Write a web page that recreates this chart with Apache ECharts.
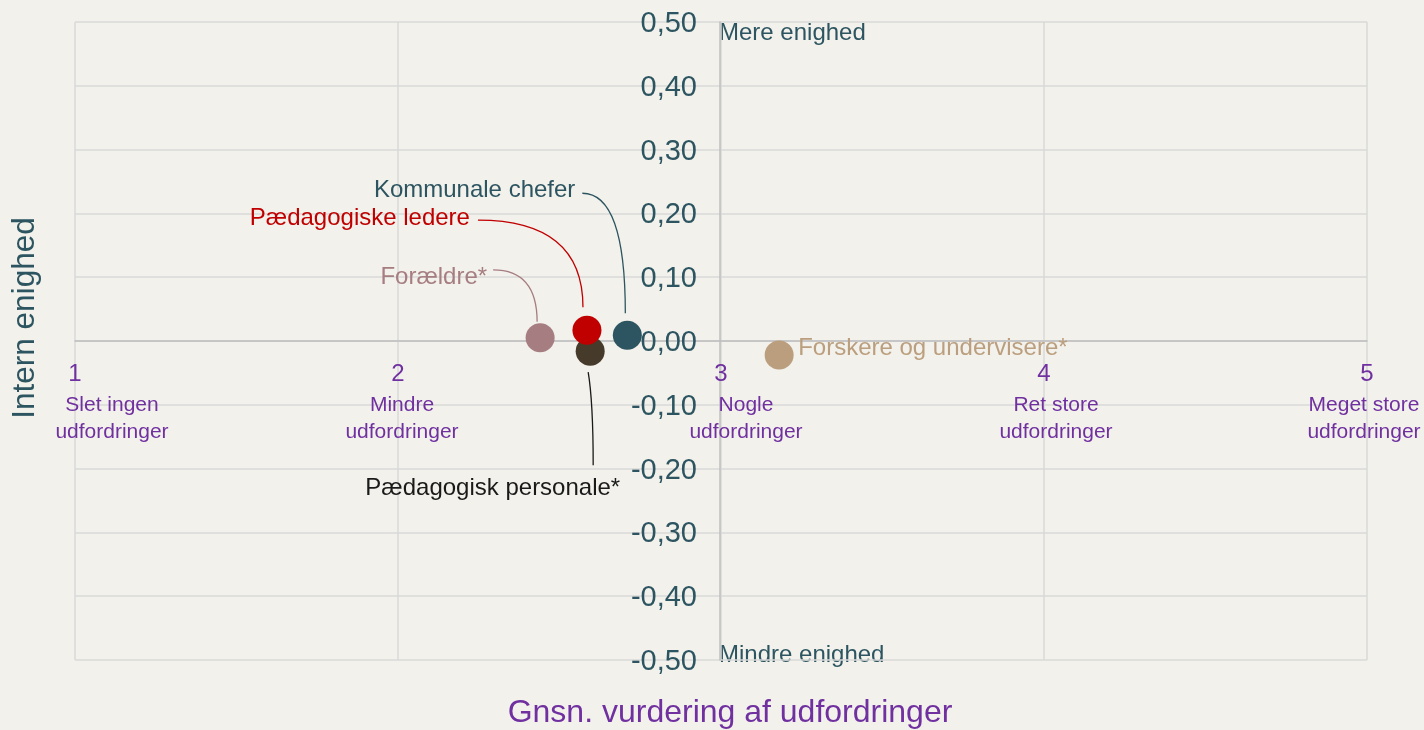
<!DOCTYPE html>
<html>
<head>
<meta charset="utf-8">
<script src="https://cdn.jsdelivr.net/npm/echarts@6/dist/echarts.min.js"></script>
<style>
  html, body { margin: 0; padding: 0; background: #f2f1eb; }
  #chart { width: 1424px; height: 730px; }
</style>
</head>
<body>
<div id="chart"></div>
<script>
// data
const groups = ['Forældre*', 'Pædagogisk personale*', 'Pædagogiske ledere', 'Kommunale chefer', 'Forskere og undervisere*'];
const xValues = [2.44, 2.595, 2.585, 2.71, 3.18];
const yValues = [0.005, -0.016, 0.017, 0.009, -0.022];
const dotColors = ['#a67d80', '#463a2a', '#c00000', '#2d5561', '#bb9e7d'];
const labelColors = ['#a67d80', '#1a1a1a', '#c00000', '#2d5561', '#bb9e7d'];

const xTickValues = [1, 2, 3, 4, 5];
const xTickTexts = ['Slet ingen\nudfordringer', 'Mindre\nudfordringer', 'Nogle\nudfordringer', 'Ret store\nudfordringer', 'Meget store\nudfordringer'];
const xTickShift = [37, 4, 25, 12, -3]; // sub-label horizontal nudge (px)

const FONT = '"Liberation Sans", Arial, sans-serif';
const TEAL = '#2d5561';
const PURPLE = '#7030a0';

// label placement and leader line, relative to the dot centre (px)
const labelCfg = [
  { dx: -53, dy: -60, align: 'right', line: { s: [-47, -68], e: [-3, -16], type: 'elbow' } },
  { dx: 30, dy: 137, align: 'right', line: { s: [-2, 21], e: [3, 114], type: 'down' } },
  { dx: -117, dy: -112, align: 'right', line: { s: [-109, -110], e: [-4, -23], type: 'elbow' } },
  { dx: -52, dy: -145, align: 'right', line: { s: [-45, -142], e: [-2, -22], type: 'elbow' } },
  { dx: 19, dy: -7, align: 'left', line: null }
];

const rich = { n: { fontSize: 24, lineHeight: 36, color: PURPLE, fontFamily: FONT } };
xTickShift.forEach((s, i) => {
  rich['s' + i] = {
    fontSize: 21, lineHeight: 27, color: PURPLE, fontFamily: FONT,
    padding: s >= 0 ? [0, 0, 0, 2 * s] : [0, -2 * s, 0, 0]
  };
});

const series = groups.map((g, i) => ({
  name: g,
  type: 'scatter',
  symbolSize: 29,
  itemStyle: { color: dotColors[i], opacity: 1 },
  data: [[xValues[i], yValues[i]]],
  z: 3 + i,
  label: {
    show: true,
    formatter: '{a}',
    color: labelColors[i],
    fontSize: 24,
    fontFamily: FONT
  },
  labelLayout: function (p) {
    const c = labelCfg[i];
    const cx = p.rect.x + p.rect.width / 2;
    const cy = p.rect.y + p.rect.height / 2;
    return { x: cx + c.dx, y: cy + c.dy, align: c.align, verticalAlign: 'middle' };
  },
  emphasis: { disabled: true }
}));

const baseGraphic = [
  { type: 'text', left: 719, top: 21, style: { text: 'Mere enighed', fill: TEAL, font: '24px ' + FONT } },
  { type: 'text', left: 719, top: 643, style: { text: 'Mindre enighed', fill: TEAL, font: '24px ' + FONT } },
  {
    type: 'text', x: 25, y: 318, rotation: Math.PI / 2,
    style: { text: 'Intern enighed', fill: TEAL, font: '31.5px ' + FONT, align: 'center', verticalAlign: 'middle' }
  },
  {
    type: 'text', x: 730, y: 713,
    style: { text: 'Gnsn. vurdering af udfordringer', fill: PURPLE, font: '32px ' + FONT, align: 'center', verticalAlign: 'middle' }
  }
];

const option = {
  backgroundColor: '#f2f1eb',
  animation: false,
  grid: { left: 75, right: 57, top: 22, bottom: 70, containLabel: false, outerBoundsMode: 'none' },
  xAxis: {
    type: 'value',
    min: 1,
    max: 5,
    interval: 1,
    position: 'bottom',
    offset: -319,
    axisLine: { onZero: false, lineStyle: { color: '#bfbfbf', width: 1.5 } },
    axisTick: { show: false },
    splitLine: { lineStyle: { color: '#d9d9d9', width: 1.5 } },
    axisLabel: {
      margin: 15,
      showMinLabel: true,
      showMaxLabel: true,
      formatter: function (v) {
        const idx = xTickValues.indexOf(v);
        if (idx < 0) return '';
        return '{n|' + v + '}\n' + xTickTexts[idx].split('\n').map(t => '{s' + idx + '|' + t + '}').join('\n');
      },
      rich: rich
    }
  },
  yAxis: {
    type: 'value',
    min: -0.5,
    max: 0.5,
    interval: 0.1,
    position: 'left',
    offset: -645,
    axisLine: { show: true, onZero: false, lineStyle: { color: '#bfbfbf', width: 1.5 } },
    axisTick: { show: false },
    splitLine: { lineStyle: { color: '#d9d9d9', width: 1.5 } },
    axisLabel: {
      margin: 23,
      showMinLabel: true,
      showMaxLabel: true,
      formatter: function (v) {
        if (Math.abs(v) < 1e-9) v = 0;
        return '{v|' + v.toFixed(2).replace('.', ',') + '}';
      },
      rich: {
        v: { color: TEAL, fontSize: 29, fontFamily: FONT, padding: [4, 0, 0, 0] }
      }
    }
  },
  graphic: baseGraphic,
  series: series
};

const chart = echarts.init(document.getElementById('chart'));
chart.setOption(option);

// leader lines from the labels to the dots, placed from the dots' pixel positions
const leaders = [];
groups.forEach((g, i) => {
  const L = labelCfg[i].line;
  if (!L) return;
  const c = chart.convertToPixel({ seriesIndex: i }, [xValues[i], yValues[i]]);
  const sx = c[0] + L.s[0], sy = c[1] + L.s[1];
  const ex = c[0] + L.e[0], ey = c[1] + L.e[1];
  const cp = L.type === 'elbow' ? [ex, sy] : [ex, sy + 30];
  leaders.push({
    type: 'bezierCurve',
    z: 2,
    shape: { x1: sx, y1: sy, x2: ex, y2: ey, cpx1: cp[0], cpy1: cp[1] },
    style: { stroke: i === 1 ? '#1a1a1a' : dotColors[i], lineWidth: 1.3, fill: null }
  });
});
chart.setOption({ graphic: baseGraphic.concat(leaders) });
</script>
</body>
</html>
